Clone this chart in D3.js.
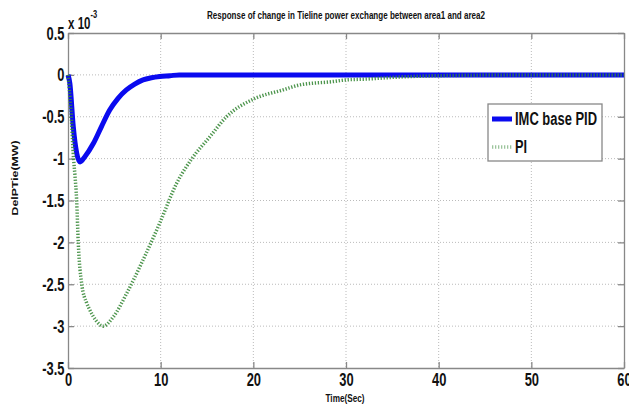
<!DOCTYPE html>
<html>
<head>
<meta charset="utf-8">
<script src="https://cdn.jsdelivr.net/npm/d3@7"></script>
<style>
  body { margin: 0; background: #fff; }
  text { font-family: "Liberation Sans", Arial, sans-serif; font-weight: bold; }
</style>
</head>
<body>
<svg id="chart" width="629" height="409"></svg>
<script>
// time axis (sec) and response values (x 10^-3)
const imcTime = [0, 0.2, 0.57, 0.93, 1.3, 1.8, 2.73, 3.6, 4.5, 5.4, 6.3, 7.2, 8.1, 9.0, 9.9, 11, 12, 15, 20, 30, 40, 50, 60];
const imcPid  = [0, -0.1, -0.62, -0.93, -1.04, -0.98, -0.82, -0.62, -0.42, -0.28, -0.18, -0.11, -0.06, -0.035, -0.02, -0.01, 0, 0, 0, 0, 0, 0, 0];

const piTime = [0, 0.3, 0.6, 0.75, 0.93, 1.11, 1.47, 2.0, 2.37, 3.0, 3.8, 4.89, 6.33, 8.1, 9.9, 11.7, 13.3, 15.3, 17.1, 20, 23.2, 25, 28.6, 30, 32.2, 35, 40, 50, 60];
const piVals = [0, -0.4, -1.0, -1.2, -1.49, -2.01, -2.49, -2.72, -2.81, -2.93, -3.0, -2.89, -2.61, -2.21, -1.77, -1.3, -1.01, -0.74, -0.5, -0.29, -0.18, -0.12, -0.08, -0.06, -0.05, -0.03, -0.01, 0, 0];

const xTicks = [0, 10, 20, 30, 40, 50, 60];
const yTicks = [0.5, 0, -0.5, -1, -1.5, -2, -2.5, -3, -3.5];
const seriesNames = ["IMC base PID", "PI"];

const margin = {left: 68, right: 5, top: 33, bottom: 41};
const width = 629, height = 409;

const x = d3.scaleLinear().domain([0, 60]).range([margin.left, width - margin.right]);
const y = d3.scaleLinear().domain([-3.5, 0.5]).range([height - margin.bottom, margin.top]);

const svg = d3.select("#chart");

// grid
const grid = svg.append("g").attr("stroke", "#bbb").attr("stroke-dasharray", "1,2").attr("stroke-width", 1);
grid.selectAll(".gx").data(xTicks.slice(1, -1)).enter().append("line")
    .attr("x1", d => x(d)).attr("x2", d => x(d))
    .attr("y1", y(0.5)).attr("y2", y(-3.5));
grid.selectAll(".gy").data(yTicks.slice(1, -1)).enter().append("line")
    .attr("y1", d => y(d)).attr("y2", d => y(d))
    .attr("x1", x(0)).attr("x2", x(60));

// axes
const fmt = d => String(d);
const squeeze = 0.68;
const axisStyle = g => {
  g.select(".domain").attr("stroke", "#888").attr("stroke-width", 1.3);
  g.selectAll(".tick line").attr("stroke", "#888").attr("stroke-width", 1.3);
  g.selectAll(".tick text").attr("fill", "#111").style("font-size", "19px");
};

svg.append("g").attr("transform", `translate(0,${y(-3.5)})`)
    .call(d3.axisBottom(x).tickValues(xTicks).tickFormat(fmt).tickSizeInner(-6).tickSizeOuter(0).tickPadding(5))
    .call(axisStyle)
    .call(g => g.selectAll(".tick text").attr("transform", `scale(${squeeze},1)`));
svg.append("g").attr("transform", `translate(0,${y(0.5)})`)
    .call(d3.axisTop(x).tickValues(xTicks).tickFormat("").tickSizeInner(-6).tickSizeOuter(0))
    .call(axisStyle);
svg.append("g").attr("transform", `translate(${x(0)},0)`)
    .call(d3.axisLeft(y).tickValues(yTicks).tickFormat(fmt).tickSizeInner(-6).tickSizeOuter(0).tickPadding(0))
    .call(axisStyle)
    .call(g => g.selectAll(".tick text").attr("x", -3.5 / squeeze).attr("transform", `scale(${squeeze},1)`));
svg.append("g").attr("transform", `translate(${x(60)},0)`)
    .call(d3.axisRight(y).tickValues(yTicks).tickFormat("").tickSizeInner(-6).tickSizeOuter(0))
    .call(axisStyle);

// curves
const line = d3.line().curve(d3.curveMonotoneX).x(d => x(d[0])).y(d => y(d[1]));

svg.append("path")
    .datum(imcTime.map((t, i) => [t, imcPid[i]]))
    .attr("d", line)
    .attr("fill", "none")
    .attr("stroke", "#0a0aef")
    .attr("stroke-width", 5);

svg.append("path")
    .datum(piTime.map((t, i) => [t, piVals[i]]))
    .attr("d", line)
    .attr("fill", "none")
    .attr("stroke", "#3a8a3a")
    .attr("stroke-width", 3.5)
    .attr("stroke-dasharray", "1.3,1.7")
    .attr("stroke-opacity", 0.9);

// title, labels
svg.append("text").attr("x", 346).attr("y", 19).attr("text-anchor", "middle")
    .style("font-size", "11px").attr("fill", "#111")
    .attr("textLength", 278).attr("lengthAdjust", "spacingAndGlyphs")
    .text("Response of change in Tieline power exchange between area1 and area2");

const expo = svg.append("text").attr("transform", `translate(68,29) scale(${squeeze},1)`)
    .style("font-size", "17px").attr("fill", "#111");
expo.append("tspan").text("x 10");
expo.append("tspan").attr("dy", -11).style("font-size", "11px").text("-3");

svg.append("text").attr("transform", "translate(18,178) rotate(-90)").attr("text-anchor", "middle")
    .style("font-size", "9px").attr("fill", "#111")
    .attr("textLength", 75).attr("lengthAdjust", "spacingAndGlyphs")
    .text("DelPTie(MW)");

svg.append("text").attr("x", 345).attr("y", 402).attr("text-anchor", "middle")
    .style("font-size", "10px").attr("fill", "#111")
    .attr("textLength", 39).attr("lengthAdjust", "spacingAndGlyphs")
    .text("Time(Sec)");

// legend
const lg = svg.append("g").attr("transform", "translate(488,104)");
lg.append("rect").attr("width", 114).attr("height", 57)
    .attr("fill", "#fff").attr("stroke", "#888").attr("stroke-width", 1.3);
const legendStyles = [
  {stroke: "#0a0aef", width: 5, dash: null, opacity: 1, len: 82},
  {stroke: "#3a8a3a", width: 3.5, dash: "1.3,1.7", opacity: 0.5, len: 12}
];
seriesNames.forEach((name, i) => {
  const yy = 15 + i * 28;
  lg.append("line").attr("x1", 4).attr("x2", 24).attr("y1", yy).attr("y2", yy)
      .attr("stroke", legendStyles[i].stroke).attr("stroke-width", legendStyles[i].width)
      .attr("stroke-dasharray", legendStyles[i].dash).attr("stroke-opacity", legendStyles[i].opacity);
  lg.append("text").attr("x", 27).attr("y", yy + 6).style("font-size", "18px").attr("fill", "#111")
      .attr("textLength", legendStyles[i].len).attr("lengthAdjust", "spacingAndGlyphs")
      .text(name);
});
</script>
</body>
</html>
